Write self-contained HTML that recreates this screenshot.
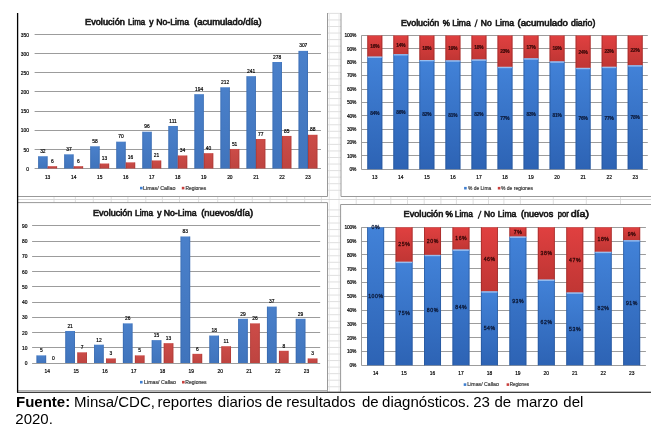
<!DOCTYPE html>
<html><head><meta charset="utf-8"><style>
html,body{margin:0;padding:0;background:#fff;}
body{width:671px;height:434px;overflow:hidden;position:relative;}
svg{position:absolute;left:0;top:0;will-change:transform;filter:blur(0.3px);}
</style></head><body>
<svg width="671" height="434" viewBox="0 0 671 434" font-family='"Liberation Sans", sans-serif'>
<defs>
<linearGradient id="gb" x1="0" y1="0" x2="0" y2="1"><stop offset="0" stop-color="#4a80ca"/><stop offset="1" stop-color="#4074bc"/></linearGradient>
<linearGradient id="gr" x1="0" y1="0" x2="0" y2="1"><stop offset="0" stop-color="#cc4c48"/><stop offset="1" stop-color="#be4440"/></linearGradient>
<linearGradient id="gB" x1="0" y1="0" x2="0" y2="1"><stop offset="0" stop-color="#4282d8"/><stop offset="1" stop-color="#2d63b4"/></linearGradient>
<linearGradient id="gR" x1="0" y1="0" x2="0" y2="1"><stop offset="0" stop-color="#e04040"/><stop offset="1" stop-color="#c03634"/></linearGradient>
</defs>
<rect x="0.00" y="0.00" width="671.00" height="434.00" fill="#ffffff"/>
<line x1="328.00" y1="13.40" x2="341.00" y2="13.40" stroke="#d8d8d8" stroke-width="0.8" opacity="1"/>
<line x1="328.00" y1="19.95" x2="341.00" y2="19.95" stroke="#d8d8d8" stroke-width="0.8" opacity="1"/>
<line x1="328.00" y1="26.50" x2="341.00" y2="26.50" stroke="#d8d8d8" stroke-width="0.8" opacity="1"/>
<line x1="328.00" y1="33.05" x2="341.00" y2="33.05" stroke="#d8d8d8" stroke-width="0.8" opacity="1"/>
<line x1="328.00" y1="39.60" x2="341.00" y2="39.60" stroke="#d8d8d8" stroke-width="0.8" opacity="1"/>
<line x1="328.00" y1="46.15" x2="341.00" y2="46.15" stroke="#d8d8d8" stroke-width="0.8" opacity="1"/>
<line x1="328.00" y1="52.70" x2="341.00" y2="52.70" stroke="#d8d8d8" stroke-width="0.8" opacity="1"/>
<line x1="328.00" y1="59.25" x2="341.00" y2="59.25" stroke="#d8d8d8" stroke-width="0.8" opacity="1"/>
<line x1="328.00" y1="65.80" x2="341.00" y2="65.80" stroke="#d8d8d8" stroke-width="0.8" opacity="1"/>
<line x1="328.00" y1="72.35" x2="341.00" y2="72.35" stroke="#d8d8d8" stroke-width="0.8" opacity="1"/>
<line x1="328.00" y1="78.90" x2="341.00" y2="78.90" stroke="#d8d8d8" stroke-width="0.8" opacity="1"/>
<line x1="328.00" y1="85.45" x2="341.00" y2="85.45" stroke="#d8d8d8" stroke-width="0.8" opacity="1"/>
<line x1="328.00" y1="92.00" x2="341.00" y2="92.00" stroke="#d8d8d8" stroke-width="0.8" opacity="1"/>
<line x1="328.00" y1="98.55" x2="341.00" y2="98.55" stroke="#d8d8d8" stroke-width="0.8" opacity="1"/>
<line x1="328.00" y1="105.10" x2="341.00" y2="105.10" stroke="#d8d8d8" stroke-width="0.8" opacity="1"/>
<line x1="328.00" y1="111.65" x2="341.00" y2="111.65" stroke="#d8d8d8" stroke-width="0.8" opacity="1"/>
<line x1="328.00" y1="118.20" x2="341.00" y2="118.20" stroke="#d8d8d8" stroke-width="0.8" opacity="1"/>
<line x1="328.00" y1="124.75" x2="341.00" y2="124.75" stroke="#d8d8d8" stroke-width="0.8" opacity="1"/>
<line x1="328.00" y1="131.30" x2="341.00" y2="131.30" stroke="#d8d8d8" stroke-width="0.8" opacity="1"/>
<line x1="328.00" y1="137.85" x2="341.00" y2="137.85" stroke="#d8d8d8" stroke-width="0.8" opacity="1"/>
<line x1="328.00" y1="144.40" x2="341.00" y2="144.40" stroke="#d8d8d8" stroke-width="0.8" opacity="1"/>
<line x1="328.00" y1="150.95" x2="341.00" y2="150.95" stroke="#d8d8d8" stroke-width="0.8" opacity="1"/>
<line x1="328.00" y1="157.50" x2="341.00" y2="157.50" stroke="#d8d8d8" stroke-width="0.8" opacity="1"/>
<line x1="328.00" y1="164.05" x2="341.00" y2="164.05" stroke="#d8d8d8" stroke-width="0.8" opacity="1"/>
<line x1="328.00" y1="170.60" x2="341.00" y2="170.60" stroke="#d8d8d8" stroke-width="0.8" opacity="1"/>
<line x1="328.00" y1="177.15" x2="341.00" y2="177.15" stroke="#d8d8d8" stroke-width="0.8" opacity="1"/>
<line x1="328.00" y1="183.70" x2="341.00" y2="183.70" stroke="#d8d8d8" stroke-width="0.8" opacity="1"/>
<line x1="328.00" y1="190.25" x2="341.00" y2="190.25" stroke="#d8d8d8" stroke-width="0.8" opacity="1"/>
<line x1="328.00" y1="209.90" x2="341.00" y2="209.90" stroke="#d8d8d8" stroke-width="0.8" opacity="1"/>
<line x1="328.00" y1="216.45" x2="341.00" y2="216.45" stroke="#d8d8d8" stroke-width="0.8" opacity="1"/>
<line x1="328.00" y1="223.00" x2="341.00" y2="223.00" stroke="#d8d8d8" stroke-width="0.8" opacity="1"/>
<line x1="328.00" y1="229.55" x2="341.00" y2="229.55" stroke="#d8d8d8" stroke-width="0.8" opacity="1"/>
<line x1="328.00" y1="236.10" x2="341.00" y2="236.10" stroke="#d8d8d8" stroke-width="0.8" opacity="1"/>
<line x1="328.00" y1="242.65" x2="341.00" y2="242.65" stroke="#d8d8d8" stroke-width="0.8" opacity="1"/>
<line x1="328.00" y1="249.20" x2="341.00" y2="249.20" stroke="#d8d8d8" stroke-width="0.8" opacity="1"/>
<line x1="328.00" y1="255.75" x2="341.00" y2="255.75" stroke="#d8d8d8" stroke-width="0.8" opacity="1"/>
<line x1="328.00" y1="262.30" x2="341.00" y2="262.30" stroke="#d8d8d8" stroke-width="0.8" opacity="1"/>
<line x1="328.00" y1="268.85" x2="341.00" y2="268.85" stroke="#d8d8d8" stroke-width="0.8" opacity="1"/>
<line x1="328.00" y1="275.40" x2="341.00" y2="275.40" stroke="#d8d8d8" stroke-width="0.8" opacity="1"/>
<line x1="328.00" y1="281.95" x2="341.00" y2="281.95" stroke="#d8d8d8" stroke-width="0.8" opacity="1"/>
<line x1="328.00" y1="288.50" x2="341.00" y2="288.50" stroke="#d8d8d8" stroke-width="0.8" opacity="1"/>
<line x1="328.00" y1="295.05" x2="341.00" y2="295.05" stroke="#d8d8d8" stroke-width="0.8" opacity="1"/>
<line x1="328.00" y1="301.60" x2="341.00" y2="301.60" stroke="#d8d8d8" stroke-width="0.8" opacity="1"/>
<line x1="328.00" y1="308.15" x2="341.00" y2="308.15" stroke="#d8d8d8" stroke-width="0.8" opacity="1"/>
<line x1="328.00" y1="314.70" x2="341.00" y2="314.70" stroke="#d8d8d8" stroke-width="0.8" opacity="1"/>
<line x1="328.00" y1="321.25" x2="341.00" y2="321.25" stroke="#d8d8d8" stroke-width="0.8" opacity="1"/>
<line x1="328.00" y1="327.80" x2="341.00" y2="327.80" stroke="#d8d8d8" stroke-width="0.8" opacity="1"/>
<line x1="328.00" y1="334.35" x2="341.00" y2="334.35" stroke="#d8d8d8" stroke-width="0.8" opacity="1"/>
<line x1="328.00" y1="340.90" x2="341.00" y2="340.90" stroke="#d8d8d8" stroke-width="0.8" opacity="1"/>
<line x1="328.00" y1="347.45" x2="341.00" y2="347.45" stroke="#d8d8d8" stroke-width="0.8" opacity="1"/>
<line x1="328.00" y1="354.00" x2="341.00" y2="354.00" stroke="#d8d8d8" stroke-width="0.8" opacity="1"/>
<line x1="328.00" y1="360.55" x2="341.00" y2="360.55" stroke="#d8d8d8" stroke-width="0.8" opacity="1"/>
<line x1="328.00" y1="367.10" x2="341.00" y2="367.10" stroke="#d8d8d8" stroke-width="0.8" opacity="1"/>
<line x1="328.00" y1="373.65" x2="341.00" y2="373.65" stroke="#d8d8d8" stroke-width="0.8" opacity="1"/>
<line x1="328.00" y1="380.20" x2="341.00" y2="380.20" stroke="#d8d8d8" stroke-width="0.8" opacity="1"/>
<line x1="328.00" y1="386.75" x2="341.00" y2="386.75" stroke="#d8d8d8" stroke-width="0.8" opacity="1"/>
<line x1="329.30" y1="13.00" x2="329.30" y2="392.00" stroke="#e4e4e4" stroke-width="0.8" opacity="1"/>
<line x1="339.00" y1="13.00" x2="339.00" y2="392.00" stroke="#e4e4e4" stroke-width="0.8" opacity="1"/>
<line x1="17.00" y1="199.50" x2="651.00" y2="199.50" stroke="#cfcfcf" stroke-width="0.8" opacity="1"/>
<line x1="54.00" y1="196.50" x2="54.00" y2="202.60" stroke="#d6d6d6" stroke-width="0.8" opacity="1"/>
<line x1="75.40" y1="196.50" x2="75.40" y2="202.60" stroke="#d6d6d6" stroke-width="0.8" opacity="1"/>
<line x1="93.30" y1="196.50" x2="93.30" y2="202.60" stroke="#d6d6d6" stroke-width="0.8" opacity="1"/>
<line x1="111.20" y1="196.50" x2="111.20" y2="202.60" stroke="#d6d6d6" stroke-width="0.8" opacity="1"/>
<line x1="127.90" y1="196.50" x2="127.90" y2="202.60" stroke="#d6d6d6" stroke-width="0.8" opacity="1"/>
<line x1="145.80" y1="196.50" x2="145.80" y2="202.60" stroke="#d6d6d6" stroke-width="0.8" opacity="1"/>
<line x1="162.40" y1="196.50" x2="162.40" y2="202.60" stroke="#d6d6d6" stroke-width="0.8" opacity="1"/>
<line x1="179.50" y1="196.50" x2="179.50" y2="202.60" stroke="#d6d6d6" stroke-width="0.8" opacity="1"/>
<line x1="198.60" y1="196.50" x2="198.60" y2="202.60" stroke="#d6d6d6" stroke-width="0.8" opacity="1"/>
<line x1="217.70" y1="196.50" x2="217.70" y2="202.60" stroke="#d6d6d6" stroke-width="0.8" opacity="1"/>
<line x1="234.40" y1="196.50" x2="234.40" y2="202.60" stroke="#d6d6d6" stroke-width="0.8" opacity="1"/>
<line x1="252.30" y1="196.50" x2="252.30" y2="202.60" stroke="#d6d6d6" stroke-width="0.8" opacity="1"/>
<line x1="270.10" y1="196.50" x2="270.10" y2="202.60" stroke="#d6d6d6" stroke-width="0.8" opacity="1"/>
<line x1="286.80" y1="196.50" x2="286.80" y2="202.60" stroke="#d6d6d6" stroke-width="0.8" opacity="1"/>
<line x1="304.70" y1="196.50" x2="304.70" y2="202.60" stroke="#d6d6d6" stroke-width="0.8" opacity="1"/>
<line x1="321.40" y1="196.50" x2="321.40" y2="202.60" stroke="#d6d6d6" stroke-width="0.8" opacity="1"/>
<line x1="356.20" y1="196.50" x2="356.20" y2="204.50" stroke="#d6d6d6" stroke-width="0.8" opacity="1"/>
<line x1="374.10" y1="196.50" x2="374.10" y2="204.50" stroke="#d6d6d6" stroke-width="0.8" opacity="1"/>
<line x1="390.80" y1="196.50" x2="390.80" y2="204.50" stroke="#d6d6d6" stroke-width="0.8" opacity="1"/>
<line x1="407.50" y1="196.50" x2="407.50" y2="204.50" stroke="#d6d6d6" stroke-width="0.8" opacity="1"/>
<line x1="424.20" y1="196.50" x2="424.20" y2="204.50" stroke="#d6d6d6" stroke-width="0.8" opacity="1"/>
<line x1="440.90" y1="196.50" x2="440.90" y2="204.50" stroke="#d6d6d6" stroke-width="0.8" opacity="1"/>
<line x1="456.40" y1="196.50" x2="456.40" y2="204.50" stroke="#d6d6d6" stroke-width="0.8" opacity="1"/>
<line x1="473.10" y1="196.50" x2="473.10" y2="204.50" stroke="#d6d6d6" stroke-width="0.8" opacity="1"/>
<line x1="488.50" y1="196.50" x2="488.50" y2="204.50" stroke="#d6d6d6" stroke-width="0.8" opacity="1"/>
<line x1="503.90" y1="196.50" x2="503.90" y2="204.50" stroke="#d6d6d6" stroke-width="0.8" opacity="1"/>
<line x1="520.40" y1="196.50" x2="520.40" y2="204.50" stroke="#d6d6d6" stroke-width="0.8" opacity="1"/>
<line x1="553.30" y1="196.50" x2="553.30" y2="204.50" stroke="#d6d6d6" stroke-width="0.8" opacity="1"/>
<line x1="586.30" y1="196.50" x2="586.30" y2="204.50" stroke="#d6d6d6" stroke-width="0.8" opacity="1"/>
<line x1="620.50" y1="196.50" x2="620.50" y2="204.50" stroke="#d6d6d6" stroke-width="0.8" opacity="1"/>
<line x1="327.50" y1="13.00" x2="327.50" y2="196.50" stroke="#999999" stroke-width="1" opacity="1"/>
<line x1="17.50" y1="196.50" x2="327.50" y2="196.50" stroke="#999999" stroke-width="1" opacity="1"/>
<line x1="341.00" y1="13.00" x2="341.00" y2="196.50" stroke="#999999" stroke-width="1" opacity="1"/>
<line x1="341.00" y1="196.50" x2="651.00" y2="196.50" stroke="#999999" stroke-width="1" opacity="1"/>
<line x1="17.50" y1="202.60" x2="327.50" y2="202.60" stroke="#999999" stroke-width="1" opacity="1"/>
<line x1="327.50" y1="202.60" x2="327.50" y2="391.50" stroke="#999999" stroke-width="1" opacity="1"/>
<line x1="340.60" y1="204.50" x2="651.00" y2="204.50" stroke="#999999" stroke-width="1" opacity="1"/>
<line x1="340.60" y1="204.50" x2="340.60" y2="391.50" stroke="#999999" stroke-width="1" opacity="1"/>
<line x1="34.60" y1="168.50" x2="321.00" y2="168.50" stroke="#9c9c9c" stroke-width="1" opacity="1"/>
<text x="28.90" y="170.80" font-size="4.9" text-anchor="end" font-weight="normal" fill="#000" stroke="#000" stroke-width="0.18">0</text>
<line x1="34.60" y1="149.50" x2="321.00" y2="149.50" stroke="#9c9c9c" stroke-width="1" opacity="1"/>
<text x="28.90" y="151.65" font-size="4.9" text-anchor="end" font-weight="normal" fill="#000" stroke="#000" stroke-width="0.18">50</text>
<line x1="34.60" y1="130.50" x2="321.00" y2="130.50" stroke="#9c9c9c" stroke-width="1" opacity="1"/>
<text x="28.90" y="132.49" font-size="4.9" text-anchor="end" font-weight="normal" fill="#000" stroke="#000" stroke-width="0.18">100</text>
<line x1="34.60" y1="111.50" x2="321.00" y2="111.50" stroke="#9c9c9c" stroke-width="1" opacity="1"/>
<text x="28.90" y="113.33" font-size="4.9" text-anchor="end" font-weight="normal" fill="#000" stroke="#000" stroke-width="0.18">150</text>
<line x1="34.60" y1="91.50" x2="321.00" y2="91.50" stroke="#9c9c9c" stroke-width="1" opacity="1"/>
<text x="28.90" y="94.18" font-size="4.9" text-anchor="end" font-weight="normal" fill="#000" stroke="#000" stroke-width="0.18">200</text>
<line x1="34.60" y1="72.50" x2="321.00" y2="72.50" stroke="#9c9c9c" stroke-width="1" opacity="1"/>
<text x="28.90" y="75.02" font-size="4.9" text-anchor="end" font-weight="normal" fill="#000" stroke="#000" stroke-width="0.18">250</text>
<line x1="34.60" y1="53.50" x2="321.00" y2="53.50" stroke="#9c9c9c" stroke-width="1" opacity="1"/>
<text x="28.90" y="55.87" font-size="4.9" text-anchor="end" font-weight="normal" fill="#000" stroke="#000" stroke-width="0.18">300</text>
<line x1="34.60" y1="34.50" x2="321.00" y2="34.50" stroke="#9c9c9c" stroke-width="1" opacity="1"/>
<text x="28.90" y="36.71" font-size="4.9" text-anchor="end" font-weight="normal" fill="#000" stroke="#000" stroke-width="0.18">350</text>
<rect x="38.15" y="156.24" width="9.47" height="12.26" fill="url(#gb)"/>
<rect x="38.15" y="156.24" width="0.90" height="12.26" fill="#23508f" opacity="0.3"/>
<rect x="46.72" y="156.24" width="0.90" height="12.26" fill="#23508f" opacity="0.3"/>
<rect x="47.62" y="166.20" width="9.47" height="2.30" fill="url(#gr)"/>
<rect x="47.62" y="166.20" width="0.90" height="2.30" fill="#8a2522" opacity="0.3"/>
<rect x="56.19" y="166.20" width="0.90" height="2.30" fill="#8a2522" opacity="0.3"/>
<text x="42.88" y="152.84" font-size="4.9" text-anchor="middle" font-weight="normal" fill="#000" stroke="#000" stroke-width="0.18">32</text>
<text x="52.35" y="162.80" font-size="4.9" text-anchor="middle" font-weight="normal" fill="#000" stroke="#000" stroke-width="0.18">6</text>
<text x="47.62" y="178.80" font-size="4.9" text-anchor="middle" font-weight="normal" fill="#000" stroke="#000" stroke-width="0.18">13</text>
<rect x="64.18" y="154.33" width="9.47" height="14.17" fill="url(#gb)"/>
<rect x="64.18" y="154.33" width="0.90" height="14.17" fill="#23508f" opacity="0.3"/>
<rect x="72.75" y="154.33" width="0.90" height="14.17" fill="#23508f" opacity="0.3"/>
<rect x="73.65" y="166.20" width="9.47" height="2.30" fill="url(#gr)"/>
<rect x="73.65" y="166.20" width="0.90" height="2.30" fill="#8a2522" opacity="0.3"/>
<rect x="82.22" y="166.20" width="0.90" height="2.30" fill="#8a2522" opacity="0.3"/>
<text x="68.92" y="150.93" font-size="4.9" text-anchor="middle" font-weight="normal" fill="#000" stroke="#000" stroke-width="0.18">37</text>
<text x="78.39" y="162.80" font-size="4.9" text-anchor="middle" font-weight="normal" fill="#000" stroke="#000" stroke-width="0.18">6</text>
<text x="73.65" y="178.80" font-size="4.9" text-anchor="middle" font-weight="normal" fill="#000" stroke="#000" stroke-width="0.18">14</text>
<rect x="90.22" y="146.28" width="9.47" height="22.22" fill="url(#gb)"/>
<rect x="90.22" y="146.28" width="0.90" height="22.22" fill="#23508f" opacity="0.3"/>
<rect x="98.79" y="146.28" width="0.90" height="22.22" fill="#23508f" opacity="0.3"/>
<rect x="99.69" y="163.52" width="9.47" height="4.98" fill="url(#gr)"/>
<rect x="99.69" y="163.52" width="0.90" height="4.98" fill="#8a2522" opacity="0.3"/>
<rect x="108.26" y="163.52" width="0.90" height="4.98" fill="#8a2522" opacity="0.3"/>
<text x="94.96" y="142.88" font-size="4.9" text-anchor="middle" font-weight="normal" fill="#000" stroke="#000" stroke-width="0.18">58</text>
<text x="104.43" y="160.12" font-size="4.9" text-anchor="middle" font-weight="normal" fill="#000" stroke="#000" stroke-width="0.18">13</text>
<text x="99.69" y="178.80" font-size="4.9" text-anchor="middle" font-weight="normal" fill="#000" stroke="#000" stroke-width="0.18">15</text>
<rect x="116.26" y="141.68" width="9.47" height="26.82" fill="url(#gb)"/>
<rect x="116.26" y="141.68" width="0.90" height="26.82" fill="#23508f" opacity="0.3"/>
<rect x="124.83" y="141.68" width="0.90" height="26.82" fill="#23508f" opacity="0.3"/>
<rect x="125.73" y="162.37" width="9.47" height="6.13" fill="url(#gr)"/>
<rect x="125.73" y="162.37" width="0.90" height="6.13" fill="#8a2522" opacity="0.3"/>
<rect x="134.30" y="162.37" width="0.90" height="6.13" fill="#8a2522" opacity="0.3"/>
<text x="120.99" y="138.28" font-size="4.9" text-anchor="middle" font-weight="normal" fill="#000" stroke="#000" stroke-width="0.18">70</text>
<text x="130.46" y="158.97" font-size="4.9" text-anchor="middle" font-weight="normal" fill="#000" stroke="#000" stroke-width="0.18">16</text>
<text x="125.73" y="178.80" font-size="4.9" text-anchor="middle" font-weight="normal" fill="#000" stroke="#000" stroke-width="0.18">16</text>
<rect x="142.29" y="131.72" width="9.47" height="36.78" fill="url(#gb)"/>
<rect x="142.29" y="131.72" width="0.90" height="36.78" fill="#23508f" opacity="0.3"/>
<rect x="150.86" y="131.72" width="0.90" height="36.78" fill="#23508f" opacity="0.3"/>
<rect x="151.76" y="160.45" width="9.47" height="8.05" fill="url(#gr)"/>
<rect x="151.76" y="160.45" width="0.90" height="8.05" fill="#8a2522" opacity="0.3"/>
<rect x="160.33" y="160.45" width="0.90" height="8.05" fill="#8a2522" opacity="0.3"/>
<text x="147.03" y="128.32" font-size="4.9" text-anchor="middle" font-weight="normal" fill="#000" stroke="#000" stroke-width="0.18">96</text>
<text x="156.50" y="157.05" font-size="4.9" text-anchor="middle" font-weight="normal" fill="#000" stroke="#000" stroke-width="0.18">21</text>
<text x="151.76" y="178.80" font-size="4.9" text-anchor="middle" font-weight="normal" fill="#000" stroke="#000" stroke-width="0.18">17</text>
<rect x="168.33" y="125.98" width="9.47" height="42.52" fill="url(#gb)"/>
<rect x="168.33" y="125.98" width="0.90" height="42.52" fill="#23508f" opacity="0.3"/>
<rect x="176.90" y="125.98" width="0.90" height="42.52" fill="#23508f" opacity="0.3"/>
<rect x="177.80" y="155.47" width="9.47" height="13.03" fill="url(#gr)"/>
<rect x="177.80" y="155.47" width="0.90" height="13.03" fill="#8a2522" opacity="0.3"/>
<rect x="186.37" y="155.47" width="0.90" height="13.03" fill="#8a2522" opacity="0.3"/>
<text x="173.06" y="122.58" font-size="4.9" text-anchor="middle" font-weight="normal" fill="#000" stroke="#000" stroke-width="0.18">111</text>
<text x="182.53" y="152.07" font-size="4.9" text-anchor="middle" font-weight="normal" fill="#000" stroke="#000" stroke-width="0.18">34</text>
<text x="177.80" y="178.80" font-size="4.9" text-anchor="middle" font-weight="normal" fill="#000" stroke="#000" stroke-width="0.18">18</text>
<rect x="194.37" y="94.18" width="9.47" height="74.32" fill="url(#gb)"/>
<rect x="194.37" y="94.18" width="0.90" height="74.32" fill="#23508f" opacity="0.3"/>
<rect x="202.94" y="94.18" width="0.90" height="74.32" fill="#23508f" opacity="0.3"/>
<rect x="203.84" y="153.18" width="9.47" height="15.32" fill="url(#gr)"/>
<rect x="203.84" y="153.18" width="0.90" height="15.32" fill="#8a2522" opacity="0.3"/>
<rect x="212.41" y="153.18" width="0.90" height="15.32" fill="#8a2522" opacity="0.3"/>
<text x="199.10" y="90.78" font-size="4.9" text-anchor="middle" font-weight="normal" fill="#000" stroke="#000" stroke-width="0.18">194</text>
<text x="208.57" y="149.78" font-size="4.9" text-anchor="middle" font-weight="normal" fill="#000" stroke="#000" stroke-width="0.18">40</text>
<text x="203.84" y="178.80" font-size="4.9" text-anchor="middle" font-weight="normal" fill="#000" stroke="#000" stroke-width="0.18">19</text>
<rect x="220.40" y="87.28" width="9.47" height="81.22" fill="url(#gb)"/>
<rect x="220.40" y="87.28" width="0.90" height="81.22" fill="#23508f" opacity="0.3"/>
<rect x="228.97" y="87.28" width="0.90" height="81.22" fill="#23508f" opacity="0.3"/>
<rect x="229.87" y="148.96" width="9.47" height="19.54" fill="url(#gr)"/>
<rect x="229.87" y="148.96" width="0.90" height="19.54" fill="#8a2522" opacity="0.3"/>
<rect x="238.44" y="148.96" width="0.90" height="19.54" fill="#8a2522" opacity="0.3"/>
<text x="225.14" y="83.88" font-size="4.9" text-anchor="middle" font-weight="normal" fill="#000" stroke="#000" stroke-width="0.18">212</text>
<text x="234.61" y="145.56" font-size="4.9" text-anchor="middle" font-weight="normal" fill="#000" stroke="#000" stroke-width="0.18">51</text>
<text x="229.87" y="178.80" font-size="4.9" text-anchor="middle" font-weight="normal" fill="#000" stroke="#000" stroke-width="0.18">20</text>
<rect x="246.44" y="76.17" width="9.47" height="92.33" fill="url(#gb)"/>
<rect x="246.44" y="76.17" width="0.90" height="92.33" fill="#23508f" opacity="0.3"/>
<rect x="255.01" y="76.17" width="0.90" height="92.33" fill="#23508f" opacity="0.3"/>
<rect x="255.91" y="139.00" width="9.47" height="29.50" fill="url(#gr)"/>
<rect x="255.91" y="139.00" width="0.90" height="29.50" fill="#8a2522" opacity="0.3"/>
<rect x="264.48" y="139.00" width="0.90" height="29.50" fill="#8a2522" opacity="0.3"/>
<text x="251.17" y="72.77" font-size="4.9" text-anchor="middle" font-weight="normal" fill="#000" stroke="#000" stroke-width="0.18">241</text>
<text x="260.64" y="135.60" font-size="4.9" text-anchor="middle" font-weight="normal" fill="#000" stroke="#000" stroke-width="0.18">77</text>
<text x="255.91" y="178.80" font-size="4.9" text-anchor="middle" font-weight="normal" fill="#000" stroke="#000" stroke-width="0.18">21</text>
<rect x="272.48" y="62.00" width="9.47" height="106.50" fill="url(#gb)"/>
<rect x="272.48" y="62.00" width="0.90" height="106.50" fill="#23508f" opacity="0.3"/>
<rect x="281.05" y="62.00" width="0.90" height="106.50" fill="#23508f" opacity="0.3"/>
<rect x="281.95" y="135.94" width="9.47" height="32.56" fill="url(#gr)"/>
<rect x="281.95" y="135.94" width="0.90" height="32.56" fill="#8a2522" opacity="0.3"/>
<rect x="290.52" y="135.94" width="0.90" height="32.56" fill="#8a2522" opacity="0.3"/>
<text x="277.21" y="58.60" font-size="4.9" text-anchor="middle" font-weight="normal" fill="#000" stroke="#000" stroke-width="0.18">278</text>
<text x="286.68" y="132.54" font-size="4.9" text-anchor="middle" font-weight="normal" fill="#000" stroke="#000" stroke-width="0.18">85</text>
<text x="281.95" y="178.80" font-size="4.9" text-anchor="middle" font-weight="normal" fill="#000" stroke="#000" stroke-width="0.18">22</text>
<rect x="298.51" y="50.89" width="9.47" height="117.61" fill="url(#gb)"/>
<rect x="298.51" y="50.89" width="0.90" height="117.61" fill="#23508f" opacity="0.3"/>
<rect x="307.08" y="50.89" width="0.90" height="117.61" fill="#23508f" opacity="0.3"/>
<rect x="307.98" y="134.79" width="9.47" height="33.71" fill="url(#gr)"/>
<rect x="307.98" y="134.79" width="0.90" height="33.71" fill="#8a2522" opacity="0.3"/>
<rect x="316.55" y="134.79" width="0.90" height="33.71" fill="#8a2522" opacity="0.3"/>
<text x="303.25" y="47.49" font-size="4.9" text-anchor="middle" font-weight="normal" fill="#000" stroke="#000" stroke-width="0.18">307</text>
<text x="312.72" y="131.39" font-size="4.9" text-anchor="middle" font-weight="normal" fill="#000" stroke="#000" stroke-width="0.18">88</text>
<text x="307.98" y="178.80" font-size="4.9" text-anchor="middle" font-weight="normal" fill="#000" stroke="#000" stroke-width="0.18">23</text>
<text x="85.00" y="24.70" font-size="8.5" text-anchor="start" font-weight="normal" fill="#1a1a1a" textLength="39.90" lengthAdjust="spacingAndGlyphs" stroke="#1a1a1a" stroke-width="0.62">Evolución</text>
<text x="128.00" y="24.70" font-size="8.5" text-anchor="start" font-weight="normal" fill="#1a1a1a" textLength="17.10" lengthAdjust="spacingAndGlyphs" stroke="#1a1a1a" stroke-width="0.62">Lima</text>
<text x="151.45" y="24.70" font-size="8.5" text-anchor="middle" font-weight="normal" fill="#1a1a1a" stroke="#1a1a1a" stroke-width="0.62">y</text>
<text x="156.30" y="24.70" font-size="8.5" text-anchor="start" font-weight="normal" fill="#1a1a1a" textLength="32.70" lengthAdjust="spacingAndGlyphs" stroke="#1a1a1a" stroke-width="0.62">No-Lima</text>
<text x="194.10" y="24.70" font-size="8.5" text-anchor="start" font-weight="normal" fill="#1a1a1a" textLength="67.50" lengthAdjust="spacingAndGlyphs" stroke="#1a1a1a" stroke-width="0.62">(acumulado/día)</text>
<rect x="140.00" y="186.80" width="2.60" height="2.60" fill="#3f7fd0"/>
<text x="143.00" y="189.90" font-size="4.8" text-anchor="start" font-weight="normal" fill="#3a3a3a" textLength="32.40" lengthAdjust="spacingAndGlyphs" stroke="#3a3a3a" stroke-width="0.18">Limas/ Callao</text>
<rect x="181.80" y="186.80" width="2.60" height="2.60" fill="#c8403d"/>
<text x="185.40" y="189.90" font-size="4.8" text-anchor="start" font-weight="normal" fill="#3a3a3a" textLength="20.80" lengthAdjust="spacingAndGlyphs" stroke="#3a3a3a" stroke-width="0.18">Regiones</text>
<line x1="361.40" y1="169.50" x2="647.80" y2="169.50" stroke="#9c9c9c" stroke-width="1" opacity="1"/>
<text x="356.20" y="171.10" font-size="4.9" text-anchor="end" font-weight="normal" fill="#000" stroke="#000" stroke-width="0.18" letter-spacing="-0.2">0%</text>
<line x1="361.40" y1="155.50" x2="647.80" y2="155.50" stroke="#9c9c9c" stroke-width="1" opacity="1"/>
<text x="356.20" y="157.72" font-size="4.9" text-anchor="end" font-weight="normal" fill="#000" stroke="#000" stroke-width="0.18" letter-spacing="-0.2">10%</text>
<line x1="361.40" y1="142.50" x2="647.80" y2="142.50" stroke="#9c9c9c" stroke-width="1" opacity="1"/>
<text x="356.20" y="144.34" font-size="4.9" text-anchor="end" font-weight="normal" fill="#000" stroke="#000" stroke-width="0.18" letter-spacing="-0.2">20%</text>
<line x1="361.40" y1="129.50" x2="647.80" y2="129.50" stroke="#9c9c9c" stroke-width="1" opacity="1"/>
<text x="356.20" y="130.96" font-size="4.9" text-anchor="end" font-weight="normal" fill="#000" stroke="#000" stroke-width="0.18" letter-spacing="-0.2">30%</text>
<line x1="361.40" y1="115.50" x2="647.80" y2="115.50" stroke="#9c9c9c" stroke-width="1" opacity="1"/>
<text x="356.20" y="117.58" font-size="4.9" text-anchor="end" font-weight="normal" fill="#000" stroke="#000" stroke-width="0.18" letter-spacing="-0.2">40%</text>
<line x1="361.40" y1="102.50" x2="647.80" y2="102.50" stroke="#9c9c9c" stroke-width="1" opacity="1"/>
<text x="356.20" y="104.20" font-size="4.9" text-anchor="end" font-weight="normal" fill="#000" stroke="#000" stroke-width="0.18" letter-spacing="-0.2">50%</text>
<line x1="361.40" y1="89.50" x2="647.80" y2="89.50" stroke="#9c9c9c" stroke-width="1" opacity="1"/>
<text x="356.20" y="90.82" font-size="4.9" text-anchor="end" font-weight="normal" fill="#000" stroke="#000" stroke-width="0.18" letter-spacing="-0.2">60%</text>
<line x1="361.40" y1="75.50" x2="647.80" y2="75.50" stroke="#9c9c9c" stroke-width="1" opacity="1"/>
<text x="356.20" y="77.44" font-size="4.9" text-anchor="end" font-weight="normal" fill="#000" stroke="#000" stroke-width="0.18" letter-spacing="-0.2">70%</text>
<line x1="361.40" y1="62.50" x2="647.80" y2="62.50" stroke="#9c9c9c" stroke-width="1" opacity="1"/>
<text x="356.20" y="64.06" font-size="4.9" text-anchor="end" font-weight="normal" fill="#000" stroke="#000" stroke-width="0.18" letter-spacing="-0.2">80%</text>
<line x1="361.40" y1="48.50" x2="647.80" y2="48.50" stroke="#9c9c9c" stroke-width="1" opacity="1"/>
<text x="356.20" y="50.68" font-size="4.9" text-anchor="end" font-weight="normal" fill="#000" stroke="#000" stroke-width="0.18" letter-spacing="-0.2">90%</text>
<line x1="361.40" y1="35.50" x2="647.80" y2="35.50" stroke="#9c9c9c" stroke-width="1" opacity="1"/>
<text x="356.20" y="37.30" font-size="4.9" text-anchor="end" font-weight="normal" fill="#000" stroke="#000" stroke-width="0.18" letter-spacing="-0.2">100%</text>
<line x1="361.50" y1="35.50" x2="361.50" y2="169.30" stroke="#9c9c9c" stroke-width="1" opacity="1"/>
<rect x="367.32" y="56.63" width="15.00" height="112.67" fill="url(#gB)"/>
<rect x="367.32" y="56.63" width="0.90" height="112.67" fill="#23508f" opacity="0.6"/>
<rect x="381.42" y="56.63" width="0.90" height="112.67" fill="#23508f" opacity="0.6"/>
<rect x="367.32" y="35.50" width="15.00" height="21.13" fill="url(#gR)"/>
<rect x="367.32" y="35.50" width="0.90" height="21.13" fill="#8a2522" opacity="0.6"/>
<rect x="381.42" y="35.50" width="0.90" height="21.13" fill="#8a2522" opacity="0.6"/>
<rect x="367.92" y="56.63" width="13.80" height="1.30" fill="#96bdf0"/>
<text x="374.74" y="114.76" font-size="4.8" text-anchor="middle" font-weight="bold" fill="#0c1a3a" stroke="#0c1a3a" stroke-width="0.2" letter-spacing="-0.15">84%</text>
<text x="374.74" y="47.86" font-size="4.8" text-anchor="middle" font-weight="bold" fill="#3a0808" stroke="#3a0808" stroke-width="0.2" letter-spacing="-0.15">16%</text>
<text x="374.82" y="178.50" font-size="4.9" text-anchor="middle" font-weight="normal" fill="#000" stroke="#000" stroke-width="0.18">13</text>
<rect x="393.35" y="54.17" width="15.00" height="115.13" fill="url(#gB)"/>
<rect x="393.35" y="54.17" width="0.90" height="115.13" fill="#23508f" opacity="0.6"/>
<rect x="407.45" y="54.17" width="0.90" height="115.13" fill="#23508f" opacity="0.6"/>
<rect x="393.35" y="35.50" width="15.00" height="18.67" fill="url(#gR)"/>
<rect x="393.35" y="35.50" width="0.90" height="18.67" fill="#8a2522" opacity="0.6"/>
<rect x="407.45" y="35.50" width="0.90" height="18.67" fill="#8a2522" opacity="0.6"/>
<rect x="393.95" y="54.17" width="13.80" height="1.30" fill="#96bdf0"/>
<text x="400.78" y="113.53" font-size="4.8" text-anchor="middle" font-weight="bold" fill="#0c1a3a" stroke="#0c1a3a" stroke-width="0.2" letter-spacing="-0.15">86%</text>
<text x="400.78" y="46.63" font-size="4.8" text-anchor="middle" font-weight="bold" fill="#3a0808" stroke="#3a0808" stroke-width="0.2" letter-spacing="-0.15">14%</text>
<text x="400.85" y="178.50" font-size="4.9" text-anchor="middle" font-weight="normal" fill="#000" stroke="#000" stroke-width="0.18">14</text>
<rect x="419.39" y="60.00" width="15.00" height="109.30" fill="url(#gB)"/>
<rect x="419.39" y="60.00" width="0.90" height="109.30" fill="#23508f" opacity="0.6"/>
<rect x="433.49" y="60.00" width="0.90" height="109.30" fill="#23508f" opacity="0.6"/>
<rect x="419.39" y="35.50" width="15.00" height="24.50" fill="url(#gR)"/>
<rect x="419.39" y="35.50" width="0.90" height="24.50" fill="#8a2522" opacity="0.6"/>
<rect x="433.49" y="35.50" width="0.90" height="24.50" fill="#8a2522" opacity="0.6"/>
<rect x="419.99" y="60.00" width="13.80" height="1.30" fill="#96bdf0"/>
<text x="426.82" y="116.45" font-size="4.8" text-anchor="middle" font-weight="bold" fill="#0c1a3a" stroke="#0c1a3a" stroke-width="0.2" letter-spacing="-0.15">82%</text>
<text x="426.82" y="49.55" font-size="4.8" text-anchor="middle" font-weight="bold" fill="#3a0808" stroke="#3a0808" stroke-width="0.2" letter-spacing="-0.15">18%</text>
<text x="426.89" y="178.50" font-size="4.9" text-anchor="middle" font-weight="normal" fill="#000" stroke="#000" stroke-width="0.18">15</text>
<rect x="445.43" y="60.39" width="15.00" height="108.91" fill="url(#gB)"/>
<rect x="445.43" y="60.39" width="0.90" height="108.91" fill="#23508f" opacity="0.6"/>
<rect x="459.53" y="60.39" width="0.90" height="108.91" fill="#23508f" opacity="0.6"/>
<rect x="445.43" y="35.50" width="15.00" height="24.89" fill="url(#gR)"/>
<rect x="445.43" y="35.50" width="0.90" height="24.89" fill="#8a2522" opacity="0.6"/>
<rect x="459.53" y="35.50" width="0.90" height="24.89" fill="#8a2522" opacity="0.6"/>
<rect x="446.03" y="60.39" width="13.80" height="1.30" fill="#96bdf0"/>
<text x="452.85" y="116.65" font-size="4.8" text-anchor="middle" font-weight="bold" fill="#0c1a3a" stroke="#0c1a3a" stroke-width="0.2" letter-spacing="-0.15">81%</text>
<text x="452.85" y="49.75" font-size="4.8" text-anchor="middle" font-weight="bold" fill="#3a0808" stroke="#3a0808" stroke-width="0.2" letter-spacing="-0.15">19%</text>
<text x="452.93" y="178.50" font-size="4.9" text-anchor="middle" font-weight="normal" fill="#000" stroke="#000" stroke-width="0.18">16</text>
<rect x="471.46" y="59.52" width="15.00" height="109.78" fill="url(#gB)"/>
<rect x="471.46" y="59.52" width="0.90" height="109.78" fill="#23508f" opacity="0.6"/>
<rect x="485.56" y="59.52" width="0.90" height="109.78" fill="#23508f" opacity="0.6"/>
<rect x="471.46" y="35.50" width="15.00" height="24.02" fill="url(#gR)"/>
<rect x="471.46" y="35.50" width="0.90" height="24.02" fill="#8a2522" opacity="0.6"/>
<rect x="485.56" y="35.50" width="0.90" height="24.02" fill="#8a2522" opacity="0.6"/>
<rect x="472.06" y="59.52" width="13.80" height="1.30" fill="#96bdf0"/>
<text x="478.89" y="116.21" font-size="4.8" text-anchor="middle" font-weight="bold" fill="#0c1a3a" stroke="#0c1a3a" stroke-width="0.2" letter-spacing="-0.15">82%</text>
<text x="478.89" y="49.31" font-size="4.8" text-anchor="middle" font-weight="bold" fill="#3a0808" stroke="#3a0808" stroke-width="0.2" letter-spacing="-0.15">18%</text>
<text x="478.96" y="178.50" font-size="4.9" text-anchor="middle" font-weight="normal" fill="#000" stroke="#000" stroke-width="0.18">17</text>
<rect x="497.50" y="66.87" width="15.00" height="102.43" fill="url(#gB)"/>
<rect x="497.50" y="66.87" width="0.90" height="102.43" fill="#23508f" opacity="0.6"/>
<rect x="511.60" y="66.87" width="0.90" height="102.43" fill="#23508f" opacity="0.6"/>
<rect x="497.50" y="35.50" width="15.00" height="31.37" fill="url(#gR)"/>
<rect x="497.50" y="35.50" width="0.90" height="31.37" fill="#8a2522" opacity="0.6"/>
<rect x="511.60" y="35.50" width="0.90" height="31.37" fill="#8a2522" opacity="0.6"/>
<rect x="498.10" y="66.87" width="13.80" height="1.30" fill="#96bdf0"/>
<text x="504.92" y="119.89" font-size="4.8" text-anchor="middle" font-weight="bold" fill="#0c1a3a" stroke="#0c1a3a" stroke-width="0.2" letter-spacing="-0.15">77%</text>
<text x="504.92" y="52.99" font-size="4.8" text-anchor="middle" font-weight="bold" fill="#3a0808" stroke="#3a0808" stroke-width="0.2" letter-spacing="-0.15">23%</text>
<text x="505.00" y="178.50" font-size="4.9" text-anchor="middle" font-weight="normal" fill="#000" stroke="#000" stroke-width="0.18">18</text>
<rect x="523.54" y="58.37" width="15.00" height="110.93" fill="url(#gB)"/>
<rect x="523.54" y="58.37" width="0.90" height="110.93" fill="#23508f" opacity="0.6"/>
<rect x="537.64" y="58.37" width="0.90" height="110.93" fill="#23508f" opacity="0.6"/>
<rect x="523.54" y="35.50" width="15.00" height="22.87" fill="url(#gR)"/>
<rect x="523.54" y="35.50" width="0.90" height="22.87" fill="#8a2522" opacity="0.6"/>
<rect x="537.64" y="35.50" width="0.90" height="22.87" fill="#8a2522" opacity="0.6"/>
<rect x="524.14" y="58.37" width="13.80" height="1.30" fill="#96bdf0"/>
<text x="530.96" y="115.64" font-size="4.8" text-anchor="middle" font-weight="bold" fill="#0c1a3a" stroke="#0c1a3a" stroke-width="0.2" letter-spacing="-0.15">83%</text>
<text x="530.96" y="48.74" font-size="4.8" text-anchor="middle" font-weight="bold" fill="#3a0808" stroke="#3a0808" stroke-width="0.2" letter-spacing="-0.15">17%</text>
<text x="531.04" y="178.50" font-size="4.9" text-anchor="middle" font-weight="normal" fill="#000" stroke="#000" stroke-width="0.18">19</text>
<rect x="549.57" y="61.45" width="15.00" height="107.85" fill="url(#gB)"/>
<rect x="549.57" y="61.45" width="0.90" height="107.85" fill="#23508f" opacity="0.6"/>
<rect x="563.67" y="61.45" width="0.90" height="107.85" fill="#23508f" opacity="0.6"/>
<rect x="549.57" y="35.50" width="15.00" height="25.95" fill="url(#gR)"/>
<rect x="549.57" y="35.50" width="0.90" height="25.95" fill="#8a2522" opacity="0.6"/>
<rect x="563.67" y="35.50" width="0.90" height="25.95" fill="#8a2522" opacity="0.6"/>
<rect x="550.17" y="61.45" width="13.80" height="1.30" fill="#96bdf0"/>
<text x="557.00" y="117.17" font-size="4.8" text-anchor="middle" font-weight="bold" fill="#0c1a3a" stroke="#0c1a3a" stroke-width="0.2" letter-spacing="-0.15">81%</text>
<text x="557.00" y="50.27" font-size="4.8" text-anchor="middle" font-weight="bold" fill="#3a0808" stroke="#3a0808" stroke-width="0.2" letter-spacing="-0.15">19%</text>
<text x="557.07" y="178.50" font-size="4.9" text-anchor="middle" font-weight="normal" fill="#000" stroke="#000" stroke-width="0.18">20</text>
<rect x="575.61" y="67.90" width="15.00" height="101.40" fill="url(#gB)"/>
<rect x="575.61" y="67.90" width="0.90" height="101.40" fill="#23508f" opacity="0.6"/>
<rect x="589.71" y="67.90" width="0.90" height="101.40" fill="#23508f" opacity="0.6"/>
<rect x="575.61" y="35.50" width="15.00" height="32.40" fill="url(#gR)"/>
<rect x="575.61" y="35.50" width="0.90" height="32.40" fill="#8a2522" opacity="0.6"/>
<rect x="589.71" y="35.50" width="0.90" height="32.40" fill="#8a2522" opacity="0.6"/>
<rect x="576.21" y="67.90" width="13.80" height="1.30" fill="#96bdf0"/>
<text x="583.03" y="120.40" font-size="4.8" text-anchor="middle" font-weight="bold" fill="#0c1a3a" stroke="#0c1a3a" stroke-width="0.2" letter-spacing="-0.15">76%</text>
<text x="583.03" y="53.50" font-size="4.8" text-anchor="middle" font-weight="bold" fill="#3a0808" stroke="#3a0808" stroke-width="0.2" letter-spacing="-0.15">24%</text>
<text x="583.11" y="178.50" font-size="4.9" text-anchor="middle" font-weight="normal" fill="#000" stroke="#000" stroke-width="0.18">21</text>
<rect x="601.65" y="66.83" width="15.00" height="102.47" fill="url(#gB)"/>
<rect x="601.65" y="66.83" width="0.90" height="102.47" fill="#23508f" opacity="0.6"/>
<rect x="615.75" y="66.83" width="0.90" height="102.47" fill="#23508f" opacity="0.6"/>
<rect x="601.65" y="35.50" width="15.00" height="31.33" fill="url(#gR)"/>
<rect x="601.65" y="35.50" width="0.90" height="31.33" fill="#8a2522" opacity="0.6"/>
<rect x="615.75" y="35.50" width="0.90" height="31.33" fill="#8a2522" opacity="0.6"/>
<rect x="602.25" y="66.83" width="13.80" height="1.30" fill="#96bdf0"/>
<text x="609.07" y="119.87" font-size="4.8" text-anchor="middle" font-weight="bold" fill="#0c1a3a" stroke="#0c1a3a" stroke-width="0.2" letter-spacing="-0.15">77%</text>
<text x="609.07" y="52.97" font-size="4.8" text-anchor="middle" font-weight="bold" fill="#3a0808" stroke="#3a0808" stroke-width="0.2" letter-spacing="-0.15">23%</text>
<text x="609.15" y="178.50" font-size="4.9" text-anchor="middle" font-weight="normal" fill="#000" stroke="#000" stroke-width="0.18">22</text>
<rect x="627.68" y="65.31" width="15.00" height="103.99" fill="url(#gB)"/>
<rect x="627.68" y="65.31" width="0.90" height="103.99" fill="#23508f" opacity="0.6"/>
<rect x="641.78" y="65.31" width="0.90" height="103.99" fill="#23508f" opacity="0.6"/>
<rect x="627.68" y="35.50" width="15.00" height="29.81" fill="url(#gR)"/>
<rect x="627.68" y="35.50" width="0.90" height="29.81" fill="#8a2522" opacity="0.6"/>
<rect x="641.78" y="35.50" width="0.90" height="29.81" fill="#8a2522" opacity="0.6"/>
<rect x="628.28" y="65.31" width="13.80" height="1.30" fill="#96bdf0"/>
<text x="635.11" y="119.10" font-size="4.8" text-anchor="middle" font-weight="bold" fill="#0c1a3a" stroke="#0c1a3a" stroke-width="0.2" letter-spacing="-0.15">78%</text>
<text x="635.11" y="52.20" font-size="4.8" text-anchor="middle" font-weight="bold" fill="#3a0808" stroke="#3a0808" stroke-width="0.2" letter-spacing="-0.15">22%</text>
<text x="635.18" y="178.50" font-size="4.9" text-anchor="middle" font-weight="normal" fill="#000" stroke="#000" stroke-width="0.18">23</text>
<text x="400.90" y="25.90" font-size="8.5" text-anchor="start" font-weight="normal" fill="#1a1a1a" textLength="38.40" lengthAdjust="spacingAndGlyphs" stroke="#1a1a1a" stroke-width="0.62">Evolución</text>
<text x="442.70" y="25.90" font-size="8.5" text-anchor="start" font-weight="normal" fill="#1a1a1a" textLength="7.10" lengthAdjust="spacingAndGlyphs" stroke="#1a1a1a" stroke-width="0.62">%</text>
<text x="452.20" y="25.90" font-size="8.5" text-anchor="start" font-weight="normal" fill="#1a1a1a" textLength="18.50" lengthAdjust="spacingAndGlyphs" stroke="#1a1a1a" stroke-width="0.62">Lima</text>
<line x1="474.90" y1="27.20" x2="477.30" y2="19.30" stroke="#1e1e1e" stroke-width="1.15" opacity="1"/>
<text x="480.80" y="25.90" font-size="8.5" text-anchor="start" font-weight="normal" fill="#1a1a1a" textLength="10.90" lengthAdjust="spacingAndGlyphs" stroke="#1a1a1a" stroke-width="0.62">No</text>
<text x="495.30" y="25.90" font-size="8.5" text-anchor="start" font-weight="normal" fill="#1a1a1a" textLength="18.80" lengthAdjust="spacingAndGlyphs" stroke="#1a1a1a" stroke-width="0.62">Lima</text>
<text x="517.50" y="25.90" font-size="8.5" text-anchor="start" font-weight="normal" fill="#1a1a1a" textLength="50.40" lengthAdjust="spacingAndGlyphs" stroke="#1a1a1a" stroke-width="0.62">(acumulado</text>
<text x="571.10" y="25.90" font-size="8.5" text-anchor="start" font-weight="normal" fill="#1a1a1a" textLength="24.20" lengthAdjust="spacingAndGlyphs" stroke="#1a1a1a" stroke-width="0.62">diario)</text>
<rect x="464.10" y="186.90" width="2.60" height="2.60" fill="#3f7fd0"/>
<text x="468.10" y="190.00" font-size="4.8" text-anchor="start" font-weight="normal" fill="#3a3a3a" textLength="23.10" lengthAdjust="spacingAndGlyphs" stroke="#3a3a3a" stroke-width="0.18">% de Lima</text>
<rect x="497.80" y="186.90" width="2.60" height="2.60" fill="#c8403d"/>
<text x="501.00" y="190.00" font-size="4.8" text-anchor="start" font-weight="normal" fill="#3a3a3a" textLength="32.00" lengthAdjust="spacingAndGlyphs" stroke="#3a3a3a" stroke-width="0.18">% de regiones</text>
<line x1="32.10" y1="363.50" x2="320.20" y2="363.50" stroke="#9c9c9c" stroke-width="1" opacity="1"/>
<text x="27.40" y="365.20" font-size="4.9" text-anchor="end" font-weight="normal" fill="#000" stroke="#000" stroke-width="0.18">0</text>
<line x1="32.10" y1="347.50" x2="320.20" y2="347.50" stroke="#9c9c9c" stroke-width="1" opacity="1"/>
<text x="27.40" y="349.96" font-size="4.9" text-anchor="end" font-weight="normal" fill="#000" stroke="#000" stroke-width="0.18">10</text>
<line x1="32.10" y1="332.50" x2="320.20" y2="332.50" stroke="#9c9c9c" stroke-width="1" opacity="1"/>
<text x="27.40" y="334.71" font-size="4.9" text-anchor="end" font-weight="normal" fill="#000" stroke="#000" stroke-width="0.18">20</text>
<line x1="32.10" y1="317.50" x2="320.20" y2="317.50" stroke="#9c9c9c" stroke-width="1" opacity="1"/>
<text x="27.40" y="319.47" font-size="4.9" text-anchor="end" font-weight="normal" fill="#000" stroke="#000" stroke-width="0.18">30</text>
<line x1="32.10" y1="302.50" x2="320.20" y2="302.50" stroke="#9c9c9c" stroke-width="1" opacity="1"/>
<text x="27.40" y="304.22" font-size="4.9" text-anchor="end" font-weight="normal" fill="#000" stroke="#000" stroke-width="0.18">40</text>
<line x1="32.10" y1="286.50" x2="320.20" y2="286.50" stroke="#9c9c9c" stroke-width="1" opacity="1"/>
<text x="27.40" y="288.98" font-size="4.9" text-anchor="end" font-weight="normal" fill="#000" stroke="#000" stroke-width="0.18">50</text>
<line x1="32.10" y1="271.50" x2="320.20" y2="271.50" stroke="#9c9c9c" stroke-width="1" opacity="1"/>
<text x="27.40" y="273.74" font-size="4.9" text-anchor="end" font-weight="normal" fill="#000" stroke="#000" stroke-width="0.18">60</text>
<line x1="32.10" y1="256.50" x2="320.20" y2="256.50" stroke="#9c9c9c" stroke-width="1" opacity="1"/>
<text x="27.40" y="258.49" font-size="4.9" text-anchor="end" font-weight="normal" fill="#000" stroke="#000" stroke-width="0.18">70</text>
<line x1="32.10" y1="241.50" x2="320.20" y2="241.50" stroke="#9c9c9c" stroke-width="1" opacity="1"/>
<text x="27.40" y="243.25" font-size="4.9" text-anchor="end" font-weight="normal" fill="#000" stroke="#000" stroke-width="0.18">80</text>
<line x1="32.10" y1="225.50" x2="320.20" y2="225.50" stroke="#9c9c9c" stroke-width="1" opacity="1"/>
<text x="27.40" y="228.00" font-size="4.9" text-anchor="end" font-weight="normal" fill="#000" stroke="#000" stroke-width="0.18">90</text>
<rect x="36.45" y="355.38" width="9.70" height="7.62" fill="url(#gb)"/>
<rect x="36.45" y="355.38" width="0.90" height="7.62" fill="#23508f" opacity="0.3"/>
<rect x="45.26" y="355.38" width="0.90" height="7.62" fill="#23508f" opacity="0.3"/>
<text x="41.30" y="352.18" font-size="4.9" text-anchor="middle" font-weight="normal" fill="#000" stroke="#000" stroke-width="0.18">5</text>
<text x="53.30" y="359.80" font-size="4.9" text-anchor="middle" font-weight="normal" fill="#000" stroke="#000" stroke-width="0.18">0</text>
<text x="47.30" y="372.50" font-size="4.9" text-anchor="middle" font-weight="normal" fill="#000" stroke="#000" stroke-width="0.18">14</text>
<rect x="65.26" y="330.99" width="9.70" height="32.01" fill="url(#gb)"/>
<rect x="65.26" y="330.99" width="0.90" height="32.01" fill="#23508f" opacity="0.3"/>
<rect x="74.06" y="330.99" width="0.90" height="32.01" fill="#23508f" opacity="0.3"/>
<rect x="77.26" y="352.33" width="9.70" height="10.67" fill="url(#gr)"/>
<rect x="77.26" y="352.33" width="0.90" height="10.67" fill="#8a2522" opacity="0.3"/>
<rect x="86.06" y="352.33" width="0.90" height="10.67" fill="#8a2522" opacity="0.3"/>
<text x="70.11" y="327.79" font-size="4.9" text-anchor="middle" font-weight="normal" fill="#000" stroke="#000" stroke-width="0.18">21</text>
<text x="82.11" y="349.13" font-size="4.9" text-anchor="middle" font-weight="normal" fill="#000" stroke="#000" stroke-width="0.18">7</text>
<text x="76.11" y="372.50" font-size="4.9" text-anchor="middle" font-weight="normal" fill="#000" stroke="#000" stroke-width="0.18">15</text>
<rect x="94.07" y="344.71" width="9.70" height="18.29" fill="url(#gb)"/>
<rect x="94.07" y="344.71" width="0.90" height="18.29" fill="#23508f" opacity="0.3"/>
<rect x="102.87" y="344.71" width="0.90" height="18.29" fill="#23508f" opacity="0.3"/>
<rect x="106.07" y="358.43" width="9.70" height="4.57" fill="url(#gr)"/>
<rect x="106.07" y="358.43" width="0.90" height="4.57" fill="#8a2522" opacity="0.3"/>
<rect x="114.87" y="358.43" width="0.90" height="4.57" fill="#8a2522" opacity="0.3"/>
<text x="98.92" y="341.51" font-size="4.9" text-anchor="middle" font-weight="normal" fill="#000" stroke="#000" stroke-width="0.18">12</text>
<text x="110.92" y="355.23" font-size="4.9" text-anchor="middle" font-weight="normal" fill="#000" stroke="#000" stroke-width="0.18">3</text>
<text x="104.92" y="372.50" font-size="4.9" text-anchor="middle" font-weight="normal" fill="#000" stroke="#000" stroke-width="0.18">16</text>
<rect x="122.88" y="323.37" width="9.70" height="39.63" fill="url(#gb)"/>
<rect x="122.88" y="323.37" width="0.90" height="39.63" fill="#23508f" opacity="0.3"/>
<rect x="131.68" y="323.37" width="0.90" height="39.63" fill="#23508f" opacity="0.3"/>
<rect x="134.88" y="355.38" width="9.70" height="7.62" fill="url(#gr)"/>
<rect x="134.88" y="355.38" width="0.90" height="7.62" fill="#8a2522" opacity="0.3"/>
<rect x="143.68" y="355.38" width="0.90" height="7.62" fill="#8a2522" opacity="0.3"/>
<text x="127.73" y="320.17" font-size="4.9" text-anchor="middle" font-weight="normal" fill="#000" stroke="#000" stroke-width="0.18">26</text>
<text x="139.73" y="352.18" font-size="4.9" text-anchor="middle" font-weight="normal" fill="#000" stroke="#000" stroke-width="0.18">5</text>
<text x="133.73" y="372.50" font-size="4.9" text-anchor="middle" font-weight="normal" fill="#000" stroke="#000" stroke-width="0.18">17</text>
<rect x="151.69" y="340.13" width="9.70" height="22.87" fill="url(#gb)"/>
<rect x="151.69" y="340.13" width="0.90" height="22.87" fill="#23508f" opacity="0.3"/>
<rect x="160.49" y="340.13" width="0.90" height="22.87" fill="#23508f" opacity="0.3"/>
<rect x="163.69" y="343.18" width="9.70" height="19.82" fill="url(#gr)"/>
<rect x="163.69" y="343.18" width="0.90" height="19.82" fill="#8a2522" opacity="0.3"/>
<rect x="172.49" y="343.18" width="0.90" height="19.82" fill="#8a2522" opacity="0.3"/>
<text x="156.54" y="336.93" font-size="4.9" text-anchor="middle" font-weight="normal" fill="#000" stroke="#000" stroke-width="0.18">15</text>
<text x="168.54" y="339.98" font-size="4.9" text-anchor="middle" font-weight="normal" fill="#000" stroke="#000" stroke-width="0.18">13</text>
<text x="162.54" y="372.50" font-size="4.9" text-anchor="middle" font-weight="normal" fill="#000" stroke="#000" stroke-width="0.18">18</text>
<rect x="180.50" y="236.47" width="9.70" height="126.53" fill="url(#gb)"/>
<rect x="180.50" y="236.47" width="0.90" height="126.53" fill="#23508f" opacity="0.3"/>
<rect x="189.30" y="236.47" width="0.90" height="126.53" fill="#23508f" opacity="0.3"/>
<rect x="192.50" y="353.85" width="9.70" height="9.15" fill="url(#gr)"/>
<rect x="192.50" y="353.85" width="0.90" height="9.15" fill="#8a2522" opacity="0.3"/>
<rect x="201.30" y="353.85" width="0.90" height="9.15" fill="#8a2522" opacity="0.3"/>
<text x="185.35" y="233.27" font-size="4.9" text-anchor="middle" font-weight="normal" fill="#000" stroke="#000" stroke-width="0.18">83</text>
<text x="197.35" y="350.65" font-size="4.9" text-anchor="middle" font-weight="normal" fill="#000" stroke="#000" stroke-width="0.18">6</text>
<text x="191.35" y="372.50" font-size="4.9" text-anchor="middle" font-weight="normal" fill="#000" stroke="#000" stroke-width="0.18">19</text>
<rect x="209.31" y="335.56" width="9.70" height="27.44" fill="url(#gb)"/>
<rect x="209.31" y="335.56" width="0.90" height="27.44" fill="#23508f" opacity="0.3"/>
<rect x="218.11" y="335.56" width="0.90" height="27.44" fill="#23508f" opacity="0.3"/>
<rect x="221.31" y="346.23" width="9.70" height="16.77" fill="url(#gr)"/>
<rect x="221.31" y="346.23" width="0.90" height="16.77" fill="#8a2522" opacity="0.3"/>
<rect x="230.11" y="346.23" width="0.90" height="16.77" fill="#8a2522" opacity="0.3"/>
<text x="214.16" y="332.36" font-size="4.9" text-anchor="middle" font-weight="normal" fill="#000" stroke="#000" stroke-width="0.18">18</text>
<text x="226.16" y="343.03" font-size="4.9" text-anchor="middle" font-weight="normal" fill="#000" stroke="#000" stroke-width="0.18">11</text>
<text x="220.16" y="372.50" font-size="4.9" text-anchor="middle" font-weight="normal" fill="#000" stroke="#000" stroke-width="0.18">20</text>
<rect x="238.12" y="318.79" width="9.70" height="44.21" fill="url(#gb)"/>
<rect x="238.12" y="318.79" width="0.90" height="44.21" fill="#23508f" opacity="0.3"/>
<rect x="246.92" y="318.79" width="0.90" height="44.21" fill="#23508f" opacity="0.3"/>
<rect x="250.12" y="323.37" width="9.70" height="39.63" fill="url(#gr)"/>
<rect x="250.12" y="323.37" width="0.90" height="39.63" fill="#8a2522" opacity="0.3"/>
<rect x="258.93" y="323.37" width="0.90" height="39.63" fill="#8a2522" opacity="0.3"/>
<text x="242.97" y="315.59" font-size="4.9" text-anchor="middle" font-weight="normal" fill="#000" stroke="#000" stroke-width="0.18">29</text>
<text x="254.97" y="320.17" font-size="4.9" text-anchor="middle" font-weight="normal" fill="#000" stroke="#000" stroke-width="0.18">26</text>
<text x="248.97" y="372.50" font-size="4.9" text-anchor="middle" font-weight="normal" fill="#000" stroke="#000" stroke-width="0.18">21</text>
<rect x="266.94" y="306.60" width="9.70" height="56.40" fill="url(#gb)"/>
<rect x="266.94" y="306.60" width="0.90" height="56.40" fill="#23508f" opacity="0.3"/>
<rect x="275.74" y="306.60" width="0.90" height="56.40" fill="#23508f" opacity="0.3"/>
<rect x="278.93" y="350.80" width="9.70" height="12.20" fill="url(#gr)"/>
<rect x="278.93" y="350.80" width="0.90" height="12.20" fill="#8a2522" opacity="0.3"/>
<rect x="287.73" y="350.80" width="0.90" height="12.20" fill="#8a2522" opacity="0.3"/>
<text x="271.79" y="303.40" font-size="4.9" text-anchor="middle" font-weight="normal" fill="#000" stroke="#000" stroke-width="0.18">37</text>
<text x="283.78" y="347.60" font-size="4.9" text-anchor="middle" font-weight="normal" fill="#000" stroke="#000" stroke-width="0.18">8</text>
<text x="277.78" y="372.50" font-size="4.9" text-anchor="middle" font-weight="normal" fill="#000" stroke="#000" stroke-width="0.18">22</text>
<rect x="295.74" y="318.79" width="9.70" height="44.21" fill="url(#gb)"/>
<rect x="295.74" y="318.79" width="0.90" height="44.21" fill="#23508f" opacity="0.3"/>
<rect x="304.54" y="318.79" width="0.90" height="44.21" fill="#23508f" opacity="0.3"/>
<rect x="307.74" y="358.43" width="9.70" height="4.57" fill="url(#gr)"/>
<rect x="307.74" y="358.43" width="0.90" height="4.57" fill="#8a2522" opacity="0.3"/>
<rect x="316.54" y="358.43" width="0.90" height="4.57" fill="#8a2522" opacity="0.3"/>
<text x="300.59" y="315.59" font-size="4.9" text-anchor="middle" font-weight="normal" fill="#000" stroke="#000" stroke-width="0.18">29</text>
<text x="312.59" y="355.23" font-size="4.9" text-anchor="middle" font-weight="normal" fill="#000" stroke="#000" stroke-width="0.18">3</text>
<text x="306.59" y="372.50" font-size="4.9" text-anchor="middle" font-weight="normal" fill="#000" stroke="#000" stroke-width="0.18">23</text>
<text x="93.00" y="216.40" font-size="8.5" text-anchor="start" font-weight="normal" fill="#1a1a1a" textLength="39.40" lengthAdjust="spacingAndGlyphs" stroke="#1a1a1a" stroke-width="0.62">Evolución</text>
<text x="135.10" y="216.40" font-size="8.5" text-anchor="start" font-weight="normal" fill="#1a1a1a" textLength="18.00" lengthAdjust="spacingAndGlyphs" stroke="#1a1a1a" stroke-width="0.62">Lima</text>
<text x="159.30" y="216.40" font-size="8.5" text-anchor="middle" font-weight="normal" fill="#1a1a1a" stroke="#1a1a1a" stroke-width="0.62">y</text>
<text x="163.70" y="216.40" font-size="8.5" text-anchor="start" font-weight="normal" fill="#1a1a1a" textLength="32.90" lengthAdjust="spacingAndGlyphs" stroke="#1a1a1a" stroke-width="0.62">No-Lima</text>
<text x="201.20" y="216.40" font-size="8.5" text-anchor="start" font-weight="normal" fill="#1a1a1a" textLength="51.90" lengthAdjust="spacingAndGlyphs" stroke="#1a1a1a" stroke-width="0.62">(nuevos/día)</text>
<rect x="140.00" y="380.90" width="2.60" height="2.60" fill="#3f7fd0"/>
<text x="144.10" y="384.00" font-size="4.8" text-anchor="start" font-weight="normal" fill="#3a3a3a" textLength="31.80" lengthAdjust="spacingAndGlyphs" stroke="#3a3a3a" stroke-width="0.18">Limas/ Callao</text>
<rect x="182.00" y="380.90" width="2.60" height="2.60" fill="#c8403d"/>
<text x="185.30" y="384.00" font-size="4.8" text-anchor="start" font-weight="normal" fill="#3a3a3a" textLength="21.30" lengthAdjust="spacingAndGlyphs" stroke="#3a3a3a" stroke-width="0.18">Regiones</text>
<line x1="361.40" y1="365.50" x2="645.90" y2="365.50" stroke="#9c9c9c" stroke-width="1" opacity="1"/>
<text x="356.20" y="367.10" font-size="4.9" text-anchor="end" font-weight="normal" fill="#000" stroke="#000" stroke-width="0.18" letter-spacing="-0.2">0%</text>
<line x1="361.40" y1="351.50" x2="645.90" y2="351.50" stroke="#9c9c9c" stroke-width="1" opacity="1"/>
<text x="356.20" y="353.30" font-size="4.9" text-anchor="end" font-weight="normal" fill="#000" stroke="#000" stroke-width="0.18" letter-spacing="-0.2">10%</text>
<line x1="361.40" y1="337.50" x2="645.90" y2="337.50" stroke="#9c9c9c" stroke-width="1" opacity="1"/>
<text x="356.20" y="339.50" font-size="4.9" text-anchor="end" font-weight="normal" fill="#000" stroke="#000" stroke-width="0.18" letter-spacing="-0.2">20%</text>
<line x1="361.40" y1="323.50" x2="645.90" y2="323.50" stroke="#9c9c9c" stroke-width="1" opacity="1"/>
<text x="356.20" y="325.70" font-size="4.9" text-anchor="end" font-weight="normal" fill="#000" stroke="#000" stroke-width="0.18" letter-spacing="-0.2">30%</text>
<line x1="361.40" y1="310.50" x2="645.90" y2="310.50" stroke="#9c9c9c" stroke-width="1" opacity="1"/>
<text x="356.20" y="311.90" font-size="4.9" text-anchor="end" font-weight="normal" fill="#000" stroke="#000" stroke-width="0.18" letter-spacing="-0.2">40%</text>
<line x1="361.40" y1="296.50" x2="645.90" y2="296.50" stroke="#9c9c9c" stroke-width="1" opacity="1"/>
<text x="356.20" y="298.10" font-size="4.9" text-anchor="end" font-weight="normal" fill="#000" stroke="#000" stroke-width="0.18" letter-spacing="-0.2">50%</text>
<line x1="361.40" y1="282.50" x2="645.90" y2="282.50" stroke="#9c9c9c" stroke-width="1" opacity="1"/>
<text x="356.20" y="284.30" font-size="4.9" text-anchor="end" font-weight="normal" fill="#000" stroke="#000" stroke-width="0.18" letter-spacing="-0.2">60%</text>
<line x1="361.40" y1="268.50" x2="645.90" y2="268.50" stroke="#9c9c9c" stroke-width="1" opacity="1"/>
<text x="356.20" y="270.50" font-size="4.9" text-anchor="end" font-weight="normal" fill="#000" stroke="#000" stroke-width="0.18" letter-spacing="-0.2">70%</text>
<line x1="361.40" y1="254.50" x2="645.90" y2="254.50" stroke="#9c9c9c" stroke-width="1" opacity="1"/>
<text x="356.20" y="256.70" font-size="4.9" text-anchor="end" font-weight="normal" fill="#000" stroke="#000" stroke-width="0.18" letter-spacing="-0.2">80%</text>
<line x1="361.40" y1="241.50" x2="645.90" y2="241.50" stroke="#9c9c9c" stroke-width="1" opacity="1"/>
<text x="356.20" y="242.90" font-size="4.9" text-anchor="end" font-weight="normal" fill="#000" stroke="#000" stroke-width="0.18" letter-spacing="-0.2">90%</text>
<line x1="361.40" y1="227.50" x2="645.90" y2="227.50" stroke="#9c9c9c" stroke-width="1" opacity="1"/>
<text x="356.20" y="229.10" font-size="4.9" text-anchor="end" font-weight="normal" fill="#000" stroke="#000" stroke-width="0.18" letter-spacing="-0.2">100%</text>
<line x1="361.50" y1="227.30" x2="361.50" y2="365.30" stroke="#9c9c9c" stroke-width="1" opacity="1"/>
<rect x="367.12" y="227.30" width="17.00" height="138.00" fill="url(#gB)"/>
<rect x="367.12" y="227.30" width="0.90" height="138.00" fill="#23508f" opacity="0.6"/>
<rect x="383.23" y="227.30" width="0.90" height="138.00" fill="#23508f" opacity="0.6"/>
<text x="375.90" y="298.10" font-size="5.2" text-anchor="middle" font-weight="normal" fill="#0c1a3a" stroke="#0c1a3a" stroke-width="0.3" letter-spacing="0.55">100%</text>
<text x="375.90" y="228.50" font-size="5.2" text-anchor="middle" font-weight="normal" fill="#0c1a3a" stroke="#0c1a3a" stroke-width="0.3" letter-spacing="0.55">0%</text>
<text x="375.62" y="375.00" font-size="4.9" text-anchor="middle" font-weight="normal" fill="#000" stroke="#000" stroke-width="0.18">14</text>
<rect x="395.57" y="261.80" width="17.00" height="103.50" fill="url(#gB)"/>
<rect x="395.57" y="261.80" width="0.90" height="103.50" fill="#23508f" opacity="0.6"/>
<rect x="411.68" y="261.80" width="0.90" height="103.50" fill="#23508f" opacity="0.6"/>
<rect x="395.57" y="227.30" width="17.00" height="34.50" fill="url(#gR)"/>
<rect x="395.57" y="227.30" width="0.90" height="34.50" fill="#8a2522" opacity="0.6"/>
<rect x="411.68" y="227.30" width="0.90" height="34.50" fill="#8a2522" opacity="0.6"/>
<rect x="396.18" y="261.80" width="15.80" height="1.30" fill="#96bdf0"/>
<text x="404.35" y="315.35" font-size="5.2" text-anchor="middle" font-weight="normal" fill="#0c1a3a" stroke="#0c1a3a" stroke-width="0.3" letter-spacing="0.55">75%</text>
<text x="404.35" y="246.35" font-size="5.2" text-anchor="middle" font-weight="normal" fill="#3a0808" stroke="#3a0808" stroke-width="0.3" letter-spacing="0.55">25%</text>
<text x="404.07" y="375.00" font-size="4.9" text-anchor="middle" font-weight="normal" fill="#000" stroke="#000" stroke-width="0.18">15</text>
<rect x="424.02" y="254.90" width="17.00" height="110.40" fill="url(#gB)"/>
<rect x="424.02" y="254.90" width="0.90" height="110.40" fill="#23508f" opacity="0.6"/>
<rect x="440.12" y="254.90" width="0.90" height="110.40" fill="#23508f" opacity="0.6"/>
<rect x="424.02" y="227.30" width="17.00" height="27.60" fill="url(#gR)"/>
<rect x="424.02" y="227.30" width="0.90" height="27.60" fill="#8a2522" opacity="0.6"/>
<rect x="440.12" y="227.30" width="0.90" height="27.60" fill="#8a2522" opacity="0.6"/>
<rect x="424.62" y="254.90" width="15.80" height="1.30" fill="#96bdf0"/>
<text x="432.80" y="311.90" font-size="5.2" text-anchor="middle" font-weight="normal" fill="#0c1a3a" stroke="#0c1a3a" stroke-width="0.3" letter-spacing="0.55">80%</text>
<text x="432.80" y="242.90" font-size="5.2" text-anchor="middle" font-weight="normal" fill="#3a0808" stroke="#3a0808" stroke-width="0.3" letter-spacing="0.55">20%</text>
<text x="432.52" y="375.00" font-size="4.9" text-anchor="middle" font-weight="normal" fill="#000" stroke="#000" stroke-width="0.18">16</text>
<rect x="452.47" y="249.56" width="17.00" height="115.74" fill="url(#gB)"/>
<rect x="452.47" y="249.56" width="0.90" height="115.74" fill="#23508f" opacity="0.6"/>
<rect x="468.57" y="249.56" width="0.90" height="115.74" fill="#23508f" opacity="0.6"/>
<rect x="452.47" y="227.30" width="17.00" height="22.26" fill="url(#gR)"/>
<rect x="452.47" y="227.30" width="0.90" height="22.26" fill="#8a2522" opacity="0.6"/>
<rect x="468.57" y="227.30" width="0.90" height="22.26" fill="#8a2522" opacity="0.6"/>
<rect x="453.07" y="249.56" width="15.80" height="1.30" fill="#96bdf0"/>
<text x="461.25" y="309.23" font-size="5.2" text-anchor="middle" font-weight="normal" fill="#0c1a3a" stroke="#0c1a3a" stroke-width="0.3" letter-spacing="0.55">84%</text>
<text x="461.25" y="240.23" font-size="5.2" text-anchor="middle" font-weight="normal" fill="#3a0808" stroke="#3a0808" stroke-width="0.3" letter-spacing="0.55">16%</text>
<text x="460.97" y="375.00" font-size="4.9" text-anchor="middle" font-weight="normal" fill="#000" stroke="#000" stroke-width="0.18">17</text>
<rect x="480.92" y="291.37" width="17.00" height="73.93" fill="url(#gB)"/>
<rect x="480.92" y="291.37" width="0.90" height="73.93" fill="#23508f" opacity="0.6"/>
<rect x="497.02" y="291.37" width="0.90" height="73.93" fill="#23508f" opacity="0.6"/>
<rect x="480.92" y="227.30" width="17.00" height="64.07" fill="url(#gR)"/>
<rect x="480.92" y="227.30" width="0.90" height="64.07" fill="#8a2522" opacity="0.6"/>
<rect x="497.02" y="227.30" width="0.90" height="64.07" fill="#8a2522" opacity="0.6"/>
<rect x="481.52" y="291.37" width="15.80" height="1.30" fill="#96bdf0"/>
<text x="489.70" y="330.14" font-size="5.2" text-anchor="middle" font-weight="normal" fill="#0c1a3a" stroke="#0c1a3a" stroke-width="0.3" letter-spacing="0.55">54%</text>
<text x="489.70" y="261.14" font-size="5.2" text-anchor="middle" font-weight="normal" fill="#3a0808" stroke="#3a0808" stroke-width="0.3" letter-spacing="0.55">46%</text>
<text x="489.42" y="375.00" font-size="4.9" text-anchor="middle" font-weight="normal" fill="#000" stroke="#000" stroke-width="0.18">18</text>
<rect x="509.38" y="236.60" width="17.00" height="128.70" fill="url(#gB)"/>
<rect x="509.38" y="236.60" width="0.90" height="128.70" fill="#23508f" opacity="0.6"/>
<rect x="525.48" y="236.60" width="0.90" height="128.70" fill="#23508f" opacity="0.6"/>
<rect x="509.38" y="227.30" width="17.00" height="9.30" fill="url(#gR)"/>
<rect x="509.38" y="227.30" width="0.90" height="9.30" fill="#8a2522" opacity="0.6"/>
<rect x="525.48" y="227.30" width="0.90" height="9.30" fill="#8a2522" opacity="0.6"/>
<rect x="509.98" y="236.60" width="15.80" height="1.30" fill="#96bdf0"/>
<text x="518.15" y="302.75" font-size="5.2" text-anchor="middle" font-weight="normal" fill="#0c1a3a" stroke="#0c1a3a" stroke-width="0.3" letter-spacing="0.55">93%</text>
<text x="518.15" y="233.75" font-size="5.2" text-anchor="middle" font-weight="normal" fill="#3a0808" stroke="#3a0808" stroke-width="0.3" letter-spacing="0.55">7%</text>
<text x="517.88" y="375.00" font-size="4.9" text-anchor="middle" font-weight="normal" fill="#000" stroke="#000" stroke-width="0.18">19</text>
<rect x="537.82" y="279.64" width="17.00" height="85.66" fill="url(#gB)"/>
<rect x="537.82" y="279.64" width="0.90" height="85.66" fill="#23508f" opacity="0.6"/>
<rect x="553.92" y="279.64" width="0.90" height="85.66" fill="#23508f" opacity="0.6"/>
<rect x="537.82" y="227.30" width="17.00" height="52.34" fill="url(#gR)"/>
<rect x="537.82" y="227.30" width="0.90" height="52.34" fill="#8a2522" opacity="0.6"/>
<rect x="553.92" y="227.30" width="0.90" height="52.34" fill="#8a2522" opacity="0.6"/>
<rect x="538.42" y="279.64" width="15.80" height="1.30" fill="#96bdf0"/>
<text x="546.60" y="324.27" font-size="5.2" text-anchor="middle" font-weight="normal" fill="#0c1a3a" stroke="#0c1a3a" stroke-width="0.3" letter-spacing="0.55">62%</text>
<text x="546.60" y="255.27" font-size="5.2" text-anchor="middle" font-weight="normal" fill="#3a0808" stroke="#3a0808" stroke-width="0.3" letter-spacing="0.55">38%</text>
<text x="546.32" y="375.00" font-size="4.9" text-anchor="middle" font-weight="normal" fill="#000" stroke="#000" stroke-width="0.18">20</text>
<rect x="566.27" y="292.54" width="17.00" height="72.76" fill="url(#gB)"/>
<rect x="566.27" y="292.54" width="0.90" height="72.76" fill="#23508f" opacity="0.6"/>
<rect x="582.38" y="292.54" width="0.90" height="72.76" fill="#23508f" opacity="0.6"/>
<rect x="566.27" y="227.30" width="17.00" height="65.24" fill="url(#gR)"/>
<rect x="566.27" y="227.30" width="0.90" height="65.24" fill="#8a2522" opacity="0.6"/>
<rect x="582.38" y="227.30" width="0.90" height="65.24" fill="#8a2522" opacity="0.6"/>
<rect x="566.88" y="292.54" width="15.80" height="1.30" fill="#96bdf0"/>
<text x="575.05" y="330.72" font-size="5.2" text-anchor="middle" font-weight="normal" fill="#0c1a3a" stroke="#0c1a3a" stroke-width="0.3" letter-spacing="0.55">53%</text>
<text x="575.05" y="261.72" font-size="5.2" text-anchor="middle" font-weight="normal" fill="#3a0808" stroke="#3a0808" stroke-width="0.3" letter-spacing="0.55">47%</text>
<text x="574.77" y="375.00" font-size="4.9" text-anchor="middle" font-weight="normal" fill="#000" stroke="#000" stroke-width="0.18">21</text>
<rect x="594.72" y="251.83" width="17.00" height="113.47" fill="url(#gB)"/>
<rect x="594.72" y="251.83" width="0.90" height="113.47" fill="#23508f" opacity="0.6"/>
<rect x="610.82" y="251.83" width="0.90" height="113.47" fill="#23508f" opacity="0.6"/>
<rect x="594.72" y="227.30" width="17.00" height="24.53" fill="url(#gR)"/>
<rect x="594.72" y="227.30" width="0.90" height="24.53" fill="#8a2522" opacity="0.6"/>
<rect x="610.82" y="227.30" width="0.90" height="24.53" fill="#8a2522" opacity="0.6"/>
<rect x="595.32" y="251.83" width="15.80" height="1.30" fill="#96bdf0"/>
<text x="603.50" y="310.37" font-size="5.2" text-anchor="middle" font-weight="normal" fill="#0c1a3a" stroke="#0c1a3a" stroke-width="0.3" letter-spacing="0.55">82%</text>
<text x="603.50" y="241.37" font-size="5.2" text-anchor="middle" font-weight="normal" fill="#3a0808" stroke="#3a0808" stroke-width="0.3" letter-spacing="0.55">18%</text>
<text x="603.22" y="375.00" font-size="4.9" text-anchor="middle" font-weight="normal" fill="#000" stroke="#000" stroke-width="0.18">22</text>
<rect x="623.17" y="240.24" width="17.00" height="125.06" fill="url(#gB)"/>
<rect x="623.17" y="240.24" width="0.90" height="125.06" fill="#23508f" opacity="0.6"/>
<rect x="639.27" y="240.24" width="0.90" height="125.06" fill="#23508f" opacity="0.6"/>
<rect x="623.17" y="227.30" width="17.00" height="12.94" fill="url(#gR)"/>
<rect x="623.17" y="227.30" width="0.90" height="12.94" fill="#8a2522" opacity="0.6"/>
<rect x="639.27" y="227.30" width="0.90" height="12.94" fill="#8a2522" opacity="0.6"/>
<rect x="623.77" y="240.24" width="15.80" height="1.30" fill="#96bdf0"/>
<text x="631.95" y="304.57" font-size="5.2" text-anchor="middle" font-weight="normal" fill="#0c1a3a" stroke="#0c1a3a" stroke-width="0.3" letter-spacing="0.55">91%</text>
<text x="631.95" y="235.57" font-size="5.2" text-anchor="middle" font-weight="normal" fill="#3a0808" stroke="#3a0808" stroke-width="0.3" letter-spacing="0.55">9%</text>
<text x="631.67" y="375.00" font-size="4.9" text-anchor="middle" font-weight="normal" fill="#000" stroke="#000" stroke-width="0.18">23</text>
<text x="403.60" y="217.40" font-size="8.5" text-anchor="start" font-weight="normal" fill="#1a1a1a" textLength="39.70" lengthAdjust="spacingAndGlyphs" stroke="#1a1a1a" stroke-width="0.62">Evolución</text>
<text x="445.40" y="217.40" font-size="8.5" text-anchor="start" font-weight="normal" fill="#1a1a1a" textLength="7.40" lengthAdjust="spacingAndGlyphs" stroke="#1a1a1a" stroke-width="0.62">%</text>
<text x="454.80" y="217.40" font-size="8.5" text-anchor="start" font-weight="normal" fill="#1a1a1a" textLength="18.10" lengthAdjust="spacingAndGlyphs" stroke="#1a1a1a" stroke-width="0.62">Lima</text>
<line x1="478.10" y1="218.70" x2="481.10" y2="210.80" stroke="#1e1e1e" stroke-width="1.15" opacity="1"/>
<text x="484.00" y="217.40" font-size="8.5" text-anchor="start" font-weight="normal" fill="#1a1a1a" textLength="10.90" lengthAdjust="spacingAndGlyphs" stroke="#1a1a1a" stroke-width="0.62">No</text>
<text x="497.70" y="217.40" font-size="8.5" text-anchor="start" font-weight="normal" fill="#1a1a1a" textLength="18.70" lengthAdjust="spacingAndGlyphs" stroke="#1a1a1a" stroke-width="0.62">Lima</text>
<text x="520.90" y="217.40" font-size="8.5" text-anchor="start" font-weight="normal" fill="#1a1a1a" textLength="32.30" lengthAdjust="spacingAndGlyphs" stroke="#1a1a1a" stroke-width="0.62">(nuevos</text>
<text x="557.80" y="217.40" font-size="8.5" text-anchor="start" font-weight="normal" fill="#1a1a1a" textLength="10.90" lengthAdjust="spacingAndGlyphs" stroke="#1a1a1a" stroke-width="0.62">por</text>
<text x="570.70" y="217.40" font-size="8.5" text-anchor="start" font-weight="normal" fill="#1a1a1a" textLength="18.30" lengthAdjust="spacingAndGlyphs" stroke="#1a1a1a" stroke-width="0.62">día)</text>
<rect x="463.70" y="383.30" width="2.60" height="2.60" fill="#3f7fd0"/>
<text x="467.30" y="386.40" font-size="4.8" text-anchor="start" font-weight="normal" fill="#3a3a3a" textLength="31.50" lengthAdjust="spacingAndGlyphs" stroke="#3a3a3a" stroke-width="0.18">Limas/ Callao</text>
<rect x="506.60" y="383.30" width="2.60" height="2.60" fill="#c8403d"/>
<text x="509.70" y="386.40" font-size="4.8" text-anchor="start" font-weight="normal" fill="#3a3a3a" textLength="19.30" lengthAdjust="spacingAndGlyphs" stroke="#3a3a3a" stroke-width="0.18">Regiones</text>
<line x1="17.00" y1="390.50" x2="327.50" y2="390.50" stroke="#b0b0b0" stroke-width="1" opacity="1"/>
<line x1="17.60" y1="13.00" x2="17.60" y2="392.80" stroke="#000" stroke-width="1.3" opacity="1"/>
<line x1="17.00" y1="392.30" x2="651.00" y2="392.30" stroke="#000" stroke-width="1.1" opacity="1"/>
<text x="16.00" y="406.60" font-size="15" text-anchor="start" font-weight="bold" fill="#000">Fuente:</text>
<text x="74.10" y="406.60" font-size="15" text-anchor="start" font-weight="normal" fill="#000">Minsa/CDC,</text>
<text x="157.50" y="406.60" font-size="15" text-anchor="start" font-weight="normal" fill="#000">reportes</text>
<text x="217.80" y="406.60" font-size="15" text-anchor="start" font-weight="normal" fill="#000">diarios</text>
<text x="265.80" y="406.60" font-size="15" text-anchor="start" font-weight="normal" fill="#000">de</text>
<text x="286.20" y="406.60" font-size="15" text-anchor="start" font-weight="normal" fill="#000">resultados</text>
<text x="362.00" y="406.60" font-size="15" text-anchor="start" font-weight="normal" fill="#000">de</text>
<text x="382.10" y="406.60" font-size="15" text-anchor="start" font-weight="normal" fill="#000">diagnósticos.</text>
<text x="473.20" y="406.60" font-size="15" text-anchor="start" font-weight="normal" fill="#000">23</text>
<text x="494.50" y="406.60" font-size="15" text-anchor="start" font-weight="normal" fill="#000">de</text>
<text x="516.40" y="406.60" font-size="15" text-anchor="start" font-weight="normal" fill="#000">marzo</text>
<text x="563.30" y="406.60" font-size="15" text-anchor="start" font-weight="normal" fill="#000">del</text>
<text x="15.30" y="424.20" font-size="15" text-anchor="start" font-weight="normal" fill="#000">2020.</text>
</svg>
</body></html>
